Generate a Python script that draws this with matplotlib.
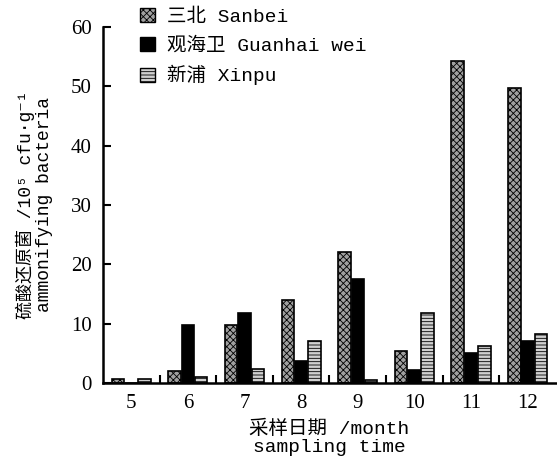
import numpy as np
import matplotlib.pyplot as plt
from matplotlib.patches import Patch

# months and values (10^5 cfu/g)
months = [5, 6, 7, 8, 9, 10, 11, 12]
sanbei = [0.7, 2.0, 9.7, 14.0, 22.0, 5.3, 54.2, 49.7]
guanhai = [0.0, 9.7, 11.8, 3.7, 17.5, 2.2, 5.1, 7.1]
xinpu = [0.7, 1.0, 2.3, 7.0, 0.5, 11.7, 6.3, 8.2]
names = ["三北 Sanbei", "观海卫 Guanhai wei", "新浦 Xinpu"]

mono = ["Liberation Mono", "Noto Sans CJK SC", "DejaVu Sans"]
serif = ["Liberation Serif", "Noto Sans CJK SC"]
plt.rcParams['hatch.linewidth'] = 0.6

fig = plt.figure(figsize=(5.57, 4.63), dpi=100)
ax = fig.add_axes([0.185, 0.173, 0.813, 0.769])

x = np.array(months)
w = 0.22
ax.bar(x - 0.235, sanbei, w, facecolor="#a0a0a0", edgecolor="black",
       hatch="xxxxx", linewidth=1.2)
ax.bar(x, guanhai, w, facecolor="black", edgecolor="black", linewidth=1.2)
ax.bar(x + 0.235, xinpu, w, facecolor="#d0d0d0", edgecolor="black",
       hatch="-----", linewidth=1.2)

ax.set_xlim(4.5, 12.5)
ax.set_ylim(0, 60)
ax.set_yticks(range(0, 61, 10))
ax.set_xticks(months)
ax.set_xticks(np.arange(5.5, 12, 1), minor=True)
ax.tick_params(axis="x", which="major", length=0, pad=8)
ax.tick_params(axis="x", which="minor", direction="in", length=6, width=1.5)
ax.tick_params(axis="y", direction="in", length=6, width=1.5, pad=8)
for lab in ax.get_xticklabels() + ax.get_yticklabels():
    lab.set_family(serif)
    lab.set_fontsize(15)

for s in ["top", "right"]:
    ax.spines[s].set_visible(False)
for s in ["left", "bottom"]:
    ax.spines[s].set_linewidth(1.8)

ax.set_xlabel("采样日期 /month\nsampling time", family=mono, fontsize=14,
              linespacing=1.1, labelpad=5)
ax.set_ylabel("硫酸还原菌 /10⁵ cfu·g⁻¹\nammonifying bacteria", family=mono,
              fontsize=13, linespacing=1.1, labelpad=13)

handles = [Patch(facecolor="#a0a0a0", edgecolor="black", hatch="xxxxx"),
           Patch(facecolor="black", edgecolor="black"),
           Patch(facecolor="#d0d0d0", edgecolor="black", hatch="-----")]
leg = ax.legend(handles, names, loc="upper left", bbox_to_anchor=(0.065, 1.075),
                frameon=False, prop={"family": mono, "size": 14},
                handlelength=0.75, handleheight=0.75, handletextpad=0.6,
                labelspacing=0.55, borderaxespad=0)

fig.savefig("out.png", dpi=100)
